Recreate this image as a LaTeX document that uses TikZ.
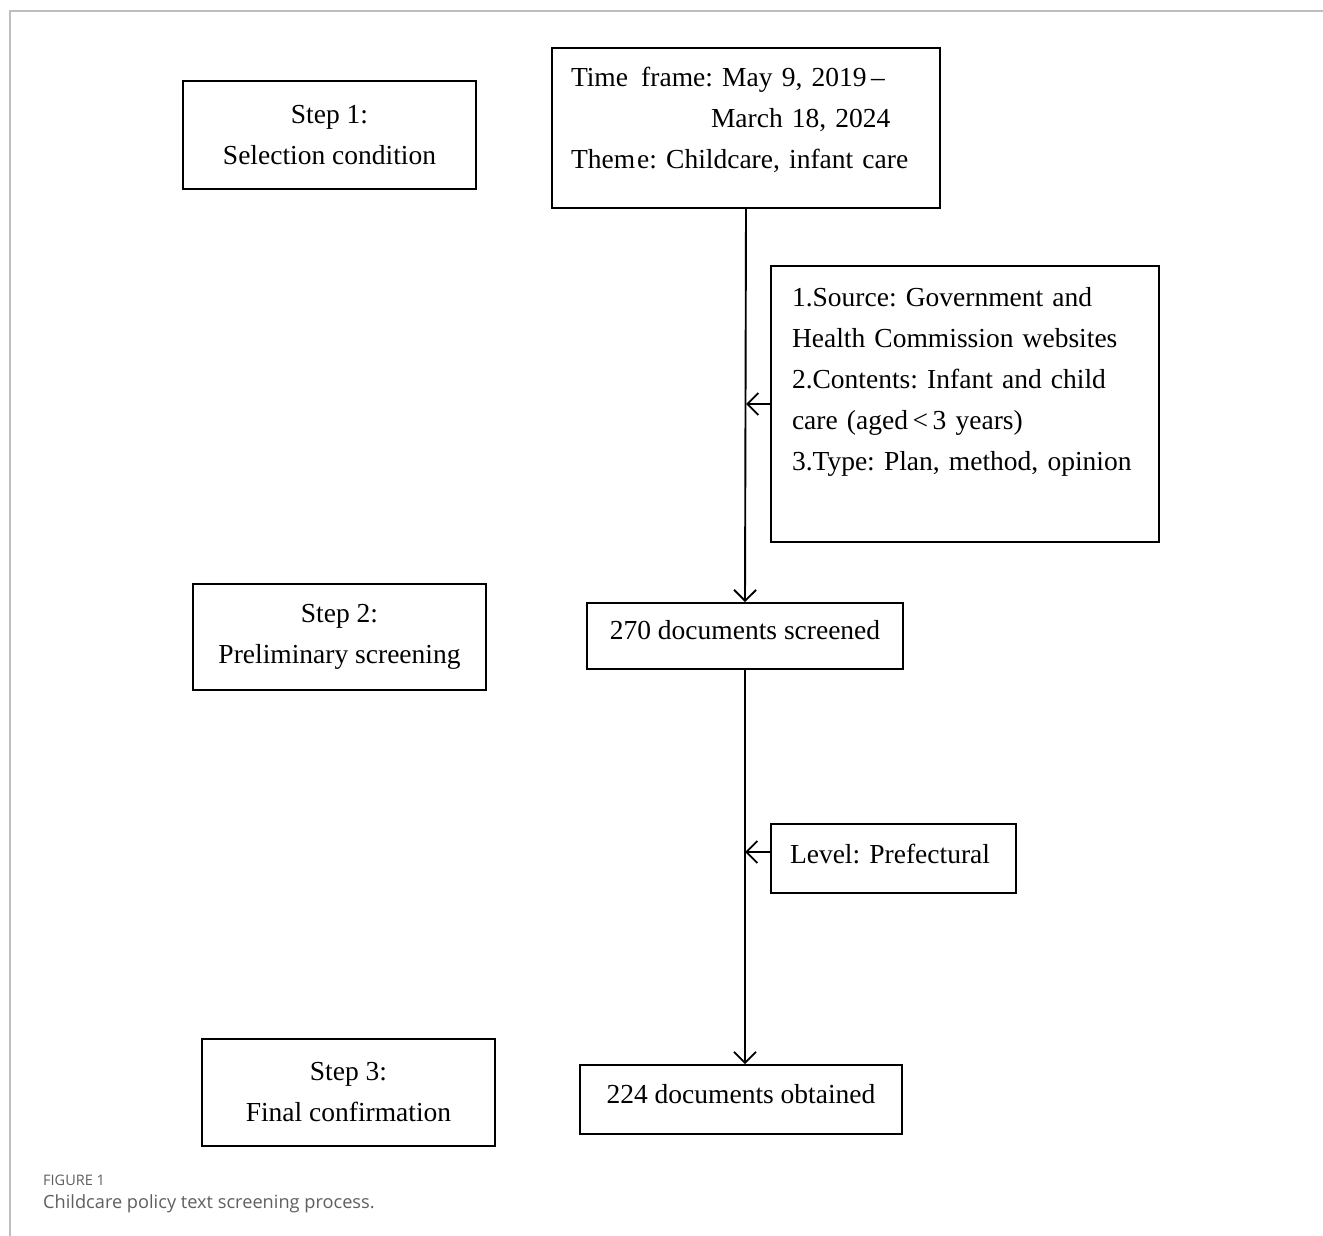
\documentclass[tikz,border=0pt]{standalone}
\usepackage{fontspec}
\setmainfont{Liberation Serif}
\newfontfamily\capfont{Open Sans}
\usetikzlibrary{arrows.meta}
\definecolor{framegray}{RGB}{190,190,190}
\definecolor{capgray}{RGB}{95,95,95}
\begin{document}
\frenchspacing
\begin{tikzpicture}[x=1pt,y=-1pt,
  box/.style={draw, line width=1.6pt, inner sep=0pt, font=\fontsize{27.5}{41}\selectfont},
  conn/.style={line width=1.9pt, -{Straight Barb[length=11pt,width=22pt,line width=1.9pt]}},
  captext/.style={anchor=base west, inner sep=0pt, text=capgray}
]
\useasboundingbox (0,0) rectangle (1323,1236);
\fill[white] (0,0) rectangle (1323,1236);
\draw[framegray, line width=1.5pt] (10,1236) -- (10,11) -- (1323,11);

\node[box, minimum width=293pt, minimum height=108pt, align=center] (st1) at (329.5,135) {Step 1:\\Selection condition};
\node[box, minimum width=388pt, minimum height=160pt, text width=350pt, align=left] (tf) at (746,128) {Time\hspace{4pt} frame: May 9, 2019\,--\\\hspace*{140pt}March 18, 2024\\Them\hspace{2pt}e: Childcare, infant care\rule[-20pt]{0pt}{1pt}};
\node[box, minimum width=388pt, minimum height=276pt, text width=346pt, align=left] (crit) at (965,404) {1.Source: Government and\\Health Commission websites\\2.Contents: Infant and child\\care (aged\,<\,3 years)\\3.Type: Plan, method, opinion\\\rule[-10pt]{0pt}{1pt}};

\node[box, minimum width=293pt, minimum height=106pt, align=center] (st2) at (339.5,637) {Step 2:\\Preliminary screening};
\node[box, minimum width=316pt, minimum height=66pt, align=center] (s270) at (745,636) {270 documents screened\rule[-12pt]{0pt}{1pt}};
\node[box, minimum width=245pt, minimum height=69pt, text width=207pt, align=left] (lev) at (893.5,858.5) {Level: Prefectural\rule[-10pt]{0pt}{1pt}};

\node[box, minimum width=293pt, minimum height=107pt, align=center] (st3) at (348.5,1092.5) {Step 3:\\Final confirmation};
\node[box, minimum width=322pt, minimum height=69pt, align=center] (s224) at (741,1099.5) {224 documents obtained\rule[-12pt]{0pt}{1pt}};

\draw[conn] (tf.south) -- (s270.north);
\draw[conn] (crit.west) -- (crit.west -| tf.south);
\draw[conn] (s270.south) -- (s270.south |- s224.north);
\draw[conn] ([yshift=6.5pt]lev.west) -- ([yshift=6.5pt]lev.west -| s270.south);

\node[captext, font=\capfont\fontsize{14.5}{16}\selectfont] (fig) at (43,1185) {FIGURE 1};
\node[captext, font=\capfont\fontsize{18.2}{20}\selectfont] (cap) at (43,1208) {Childcare policy text screening process.};
\end{tikzpicture}
\end{document}
